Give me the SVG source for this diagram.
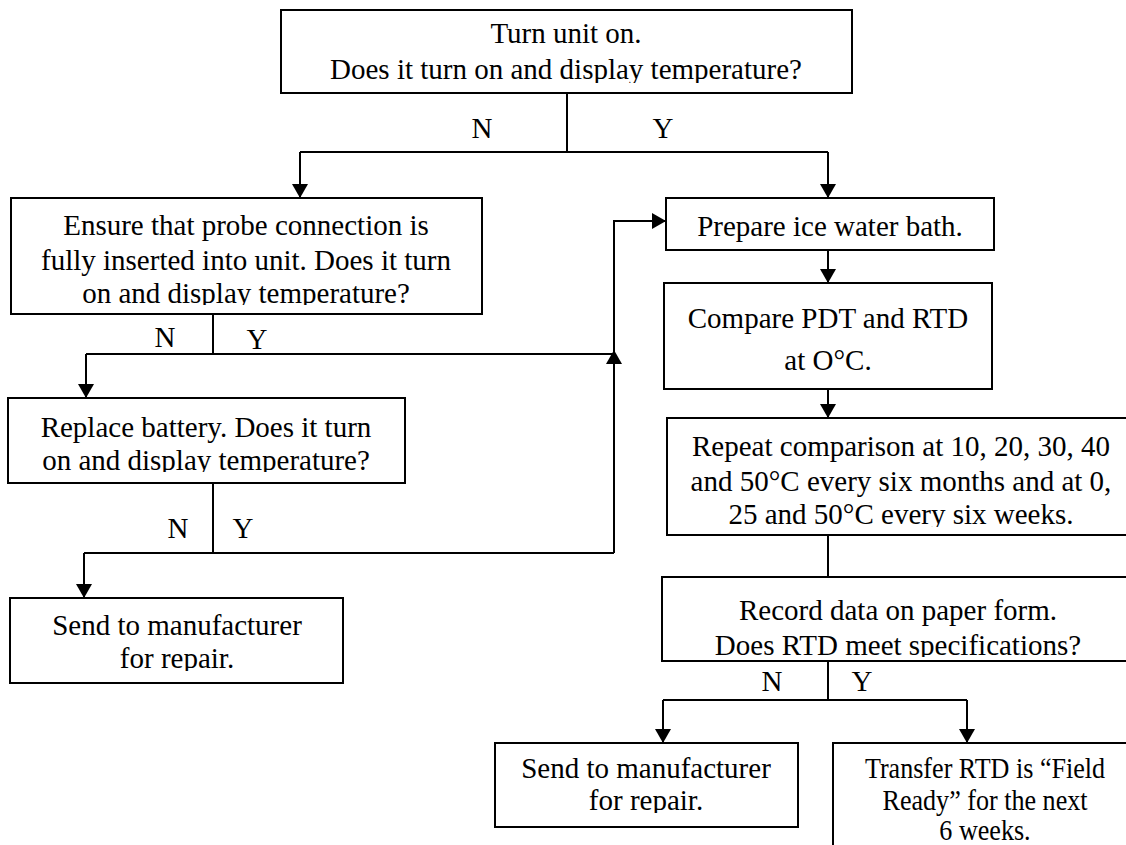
<svg xmlns="http://www.w3.org/2000/svg" width="1126" height="845" viewBox="0 0 1126 845">
  <defs>
    <style>
      .box { fill: #fff; stroke: #000; stroke-width: 2; }
      .t { font-family: "Liberation Serif", "Times New Roman", serif; font-size: 29px; fill: #000; text-anchor: middle; }
      .lbl { font-family: "Liberation Serif", "Times New Roman", serif; font-size: 29px; fill: #000; text-anchor: middle; }
      .c { stroke: #000; stroke-width: 2; fill: none; }
    </style>
    <marker id="arrow" markerUnits="userSpaceOnUse" markerWidth="15" markerHeight="16" refX="14" refY="8" orient="auto">
      <path d="M0,0 L14,8 L0,16 z" fill="#000"/>
    </marker>
    <clipPath id="clipTop"><rect x="281" y="10" width="571" height="73"/></clipPath>
    <clipPath id="clipEnsure"><rect x="11" y="198" width="471" height="107"/></clipPath>
    <clipPath id="clipReplace"><rect x="8" y="398" width="397" height="74"/></clipPath>
    <clipPath id="clipSendL"><rect x="10" y="598" width="333" height="73"/></clipPath>
    <clipPath id="clipRepeat"><rect x="667" y="418" width="470" height="109"/></clipPath>
    <clipPath id="clipRecord"><rect x="662" y="577" width="480" height="80"/></clipPath>
    <clipPath id="clipSendB"><rect x="495" y="743" width="303" height="70"/></clipPath>
  </defs>

  <!-- connectors -->
  <g id="connectors">
    <!-- first decision split -->
    <path class="c" d="M567,93 V152"/>
    <path class="c" d="M300,152 H828"/>
    <path class="c" d="M300,152 V198" marker-end="url(#arrow)"/>
    <path class="c" d="M828,152 V198" marker-end="url(#arrow)"/>
    <!-- probe check split -->
    <path class="c" d="M213,314 V354"/>
    <path class="c" d="M86,354 H614"/>
    <path class="c" d="M86,354 V398" marker-end="url(#arrow)"/>
    <!-- battery check split -->
    <path class="c" d="M213,483 V553"/>
    <path class="c" d="M84,553 H614"/>
    <path class="c" d="M84,553 V598" marker-end="url(#arrow)"/>
    <path class="c" d="M614,553 V350" marker-end="url(#arrow)"/>
    <path class="c" d="M614,355 V221 H666" marker-end="url(#arrow)"/>
    <!-- right column -->
    <path class="c" d="M828,250 V283" marker-end="url(#arrow)"/>
    <path class="c" d="M828,389 V418" marker-end="url(#arrow)"/>
    <path class="c" d="M828,535 V577"/>
    <path class="c" d="M828,661 V700"/>
    <path class="c" d="M663,700 H967"/>
    <path class="c" d="M663,700 V743" marker-end="url(#arrow)"/>
    <path class="c" d="M967,700 V743" marker-end="url(#arrow)"/>
    <!-- branch labels -->
    <text class="lbl" x="482" y="138">N</text>
    <text class="lbl" x="663" y="138">Y</text>
    <text class="lbl" x="165" y="347">N</text>
    <text class="lbl" x="257" y="349">Y</text>
    <text class="lbl" x="178" y="538">N</text>
    <text class="lbl" x="243" y="538">Y</text>
    <text class="lbl" x="772" y="691">N</text>
    <text class="lbl" x="862" y="691">Y</text>
  </g>

  <g id="start">
    <rect class="box" x="281" y="10" width="571" height="83"/>
    <g clip-path="url(#clipTop)">
      <text class="t" x="566" y="43">Turn unit on.</text>
      <text class="t" x="566" y="79">Does it turn on and display temperature?</text>
    </g>
  </g>

  <g id="probe">
    <rect class="box" x="11" y="198" width="471" height="116"/>
    <g clip-path="url(#clipEnsure)">
      <text class="t" x="246" y="235">Ensure that probe connection is</text>
      <text class="t" x="246" y="270">fully inserted into unit. Does it turn</text>
      <text class="t" x="246" y="303">on and display temperature?</text>
    </g>
  </g>

  <g id="battery">
    <rect class="box" x="8" y="398" width="397" height="85"/>
    <g clip-path="url(#clipReplace)">
      <text class="t" x="206" y="437">Replace battery. Does it turn</text>
      <text class="t" x="206" y="470">on and display temperature?</text>
    </g>
  </g>

  <g id="repair-left">
    <rect class="box" x="10" y="598" width="333" height="85"/>
    <g clip-path="url(#clipSendL)">
      <text class="t" x="177" y="635">Send to manufacturer</text>
      <text class="t" x="177" y="668">for repair.</text>
    </g>
  </g>

  <g id="ice-bath">
    <rect class="box" x="666" y="198" width="328" height="52"/>
    <text class="t" x="830" y="236">Prepare ice water bath.</text>
  </g>

  <g id="compare">
    <rect class="box" x="664" y="283" width="328" height="106"/>
    <text class="t" x="828" y="328">Compare PDT and RTD</text>
    <text class="t" x="828" y="370">at O°C.</text>
  </g>

  <g id="repeat">
    <rect class="box" x="667" y="418" width="470" height="117"/>
    <g clip-path="url(#clipRepeat)">
      <text class="t" x="901" y="456">Repeat comparison at 10, 20, 30, 40</text>
      <text class="t" x="901" y="491">and 50°C every six months and at 0,</text>
      <text class="t" x="901" y="524">25 and 50°C every six weeks.</text>
    </g>
  </g>

  <g id="record">
    <rect class="box" x="662" y="577" width="480" height="84"/>
    <g clip-path="url(#clipRecord)">
      <text class="t" x="898" y="620">Record data on paper form.</text>
      <text class="t" x="898" y="655">Does RTD meet specifications?</text>
    </g>
  </g>

  <g id="repair-bottom">
    <rect class="box" x="495" y="743" width="303" height="84"/>
    <g clip-path="url(#clipSendB)">
      <text class="t" x="646" y="778">Send to manufacturer</text>
      <text class="t" x="646" y="810">for repair.</text>
    </g>
  </g>

  <g id="field-ready">
    <rect class="box" x="833" y="743" width="310" height="120"/>
    <!-- narrower lettering in this box -->
    <g transform="translate(985 0) scale(0.9 1)">
      <text class="t" x="0" y="778">Transfer RTD is “Field</text>
      <text class="t" x="0" y="810">Ready” for the next</text>
      <text class="t" x="0" y="840">6 weeks.</text>
    </g>
  </g>
</svg>
